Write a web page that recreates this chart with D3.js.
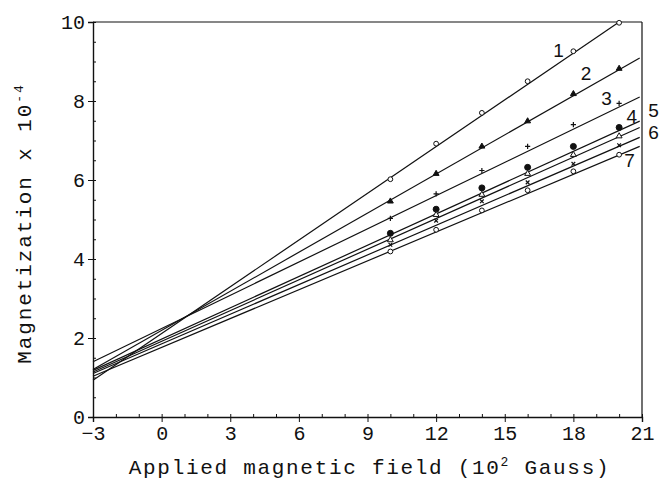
<!DOCTYPE html>
<html>
<head>
<meta charset="utf-8">
<script src="https://cdn.jsdelivr.net/npm/d3@7"></script>
<style>
  body { margin: 0; background: #fff; }
  svg text { font-family: "Liberation Mono", "Courier New", monospace; fill: #111; }
</style>
</head>
<body>
<div id="chart"></div>
<script>
const margin = { top: 22, right: 19, bottom: 64, left: 93 },
      width = 661 - margin.left - margin.right,
      height = 481 - margin.top - margin.bottom;

// measured fields (10^2 Gauss)
const fields = [10, 12, 14, 16, 18, 20];

// magnetization readings for each sample, at the fields above
const s1 = [6.02, 6.92, 7.70, 8.50, 9.26, 9.98];
const s2 = [5.46, 6.16, 6.85, 7.49, 8.18, 8.82];
const s3 = [5.03, 5.65, 6.24, 6.85, 7.40, 7.94];
const s4 = [4.65, 5.26, 5.80, 6.32, 6.85, 7.33];
const s5 = [4.48, 5.12, 5.63, 6.16, 6.64, 7.11];
const s6 = [4.36, 4.97, 5.46, 5.94, 6.41, 6.88];
const s7 = [4.19, 4.74, 5.23, 5.74, 6.22, 6.64];

// fitted straight lines: [x start, y start, x end, y end]
const fit1 = [-3, 0.93, 20.0, 10.0];
const fit2 = [-3, 1.20, 20.9, 9.09];
const fit3 = [-3, 1.40, 20.9, 8.10];
const fit4 = [-3, 1.18, 20.9, 7.49];
const fit5 = [-3, 1.14, 20.9, 7.33];
const fit6 = [-3, 1.10, 20.9, 7.08];
const fit7 = [-3, 1.03, 20.9, 6.85];

const labels = ["1", "2", "3", "4", "5", "6", "7"];
const labelPos = [[17.35, 9.29], [18.55, 8.71], [19.45, 8.08], [20.55, 7.62],
                  [21.5, 7.76], [21.5, 7.22], [20.45, 6.51]];

const xTicks = [-3, 0, 3, 6, 9, 12, 15, 18, 21];
const yTicks = [0, 2, 4, 6, 8, 10];

const series = [
  { vals: s1, fit: fit1, mark: "circleOpen" },
  { vals: s2, fit: fit2, mark: "triFill" },
  { vals: s3, fit: fit3, mark: "plus" },
  { vals: s4, fit: fit4, mark: "circleFill" },
  { vals: s5, fit: fit5, mark: "triOpen" },
  { vals: s6, fit: fit6, mark: "cross" },
  { vals: s7, fit: fit7, mark: "circleOpen" }
];

const svg = d3.select("#chart")
  .append("svg")
    .attr("width", width + margin.left + margin.right)
    .attr("height", height + margin.top + margin.bottom)
  .append("g")
    .attr("transform", `translate(${margin.left},${margin.top})`);

const x = d3.scaleLinear().domain([-3, 21]).range([0, width]);
const y = d3.scaleLinear().domain([0, 10]).range([height, 0]);

// minor ticks inside
svg.append("g")
  .attr("transform", `translate(0,${height})`)
  .call(d3.axisTop(x).ticks(24).tickSize(3).tickFormat(""))
  .call(g => g.select(".domain").remove());
svg.append("g")
  .call(d3.axisRight(y).ticks(20).tickSize(3).tickFormat(""))
  .call(g => g.select(".domain").remove());

// axes
const xAxis = svg.append("g")
  .attr("transform", `translate(0,${height})`)
  .call(d3.axisBottom(x).tickValues(xTicks).tickSize(5).tickPadding(4)
    .tickFormat(d => d < 0 ? "\u2212" + Math.abs(d) : d));
xAxis.selectAll("text").style("font-size", "20px");

const yAxis = svg.append("g")
  .call(d3.axisLeft(y).tickValues(yTicks).tickSize(5).tickPadding(3));
yAxis.selectAll("text").style("font-size", "20px");

svg.selectAll(".domain").attr("stroke", "#111").attr("stroke-width", 1.4);
svg.selectAll(".tick line").attr("stroke", "#111");

// frame top and right
svg.append("line").attr("x1", 0).attr("x2", width).attr("y1", 0).attr("y2", 0)
  .attr("stroke", "#111").attr("stroke-width", 1.2);
svg.append("line").attr("x1", width).attr("x2", width).attr("y1", 0).attr("y2", height)
  .attr("stroke", "#111").attr("stroke-width", 1.2);

// fitted lines
svg.selectAll(".fit")
  .data(series)
  .enter().append("line")
    .attr("class", "fit")
    .attr("x1", d => x(d.fit[0]))
    .attr("y1", d => y(d.fit[1]))
    .attr("x2", d => x(d.fit[2]))
    .attr("y2", d => y(d.fit[3]))
    .attr("stroke", "#111")
    .attr("stroke-width", 1.2);

// markers
const tri = d3.symbol().type(d3.symbolTriangle).size(15);
series.forEach(s => {
  const pts = fields.map((f, i) => ({ f, v: s.vals[i] }));
  const g = svg.append("g");
  const px = d => x(d.f), py = d => y(d.v);
  if (s.mark === "circleOpen" || s.mark === "circleFill") {
    g.selectAll("circle").data(pts).enter().append("circle")
      .attr("cx", px).attr("cy", py)
      .attr("r", s.mark === "circleFill" ? 3 : 2.4)
      .attr("fill", s.mark === "circleFill" ? "#111" : "#fff")
      .attr("stroke", "#111").attr("stroke-width", 1);
  } else if (s.mark === "triFill" || s.mark === "triOpen") {
    g.selectAll("path").data(pts).enter().append("path")
      .attr("d", tri)
      .attr("transform", d => `translate(${px(d)},${py(d)})`)
      .attr("fill", s.mark === "triFill" ? "#111" : "#fff")
      .attr("stroke", "#111").attr("stroke-width", 1);
  } else {
    const a = 2.6, rot = s.mark === "cross" ? 45 : 0;
    g.selectAll("path").data(pts).enter().append("path")
      .attr("d", `M${-a},0L${a},0M0,${-a}L0,${a}`)
      .attr("transform", d => `translate(${px(d)},${py(d)}) rotate(${rot})`)
      .attr("stroke", "#111").attr("stroke-width", 1.2);
  }
});

// line numbers
svg.selectAll(".num")
  .data(labels)
  .enter().append("text")
    .attr("class", "num")
    .attr("x", (d, i) => x(labelPos[i][0]))
    .attr("y", (d, i) => y(labelPos[i][1]))
    .attr("text-anchor", "middle")
    .attr("dy", "0.36em")
    .style("font-family", "'Liberation Sans', Arial, sans-serif")
    .style("font-size", "19px")
    .text(d => d);

// axis titles
const xt = svg.append("text")
  .attr("x", width / 2 + 2)
  .attr("y", height + 57)
  .attr("text-anchor", "middle")
  .style("font-size", "21px")
  .style("letter-spacing", "1.7px");
xt.append("tspan").text("Applied magnetic field (10");
xt.append("tspan").attr("dy", -8).style("font-size", "13px").text("2");
xt.append("tspan").attr("dy", 8).text(" Gauss)");

const yt = svg.append("text")
  .attr("transform", `translate(${-62},${height / 2 + 4}) rotate(-90)`)
  .attr("text-anchor", "middle")
  .style("font-size", "21px")
  .style("letter-spacing", "1.9px");
yt.append("tspan").text("Magnetization x 10");
yt.append("tspan").attr("dy", -8).style("font-size", "13px").text("-4");
</script>
</body>
</html>
